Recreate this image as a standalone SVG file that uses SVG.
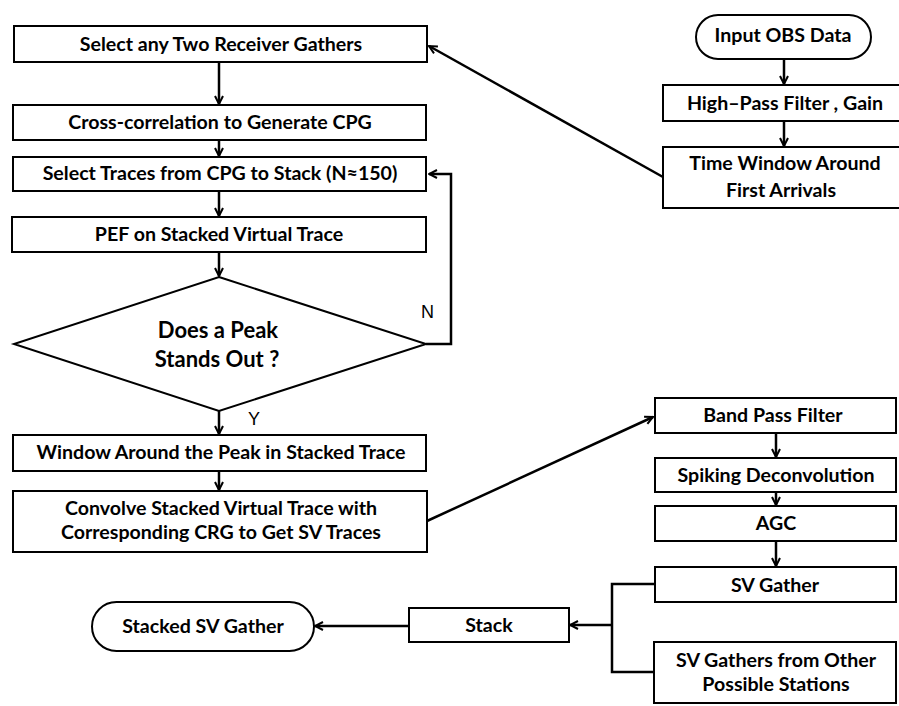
<svg xmlns="http://www.w3.org/2000/svg" width="899" height="706" viewBox="0 0 899 706">
<style>
.box{fill:#fff;stroke:#000;stroke-width:2}
.t{font-family:Lato,"Liberation Sans",sans-serif;font-weight:bold;font-size:19.6px;fill:#000;text-anchor:middle}
.d{font-size:22px}
.lbl{font-family:"Liberation Sans",Arial,sans-serif;font-size:18px;fill:#000}
.c{fill:none;stroke:#000;stroke-width:2.5}
</style>
<defs>
<marker id="a" viewBox="0 0 10 10" refX="9" refY="5" markerWidth="10" markerHeight="10" markerUnits="userSpaceOnUse" orient="auto">
<path d="M1,1 L9,5 L1,9" fill="none" stroke="#000" stroke-width="2"/>
</marker>
</defs>
<rect width="899" height="706" fill="#fff"/>
<g id="connectors">
<line class="c" x1="219" y1="62" x2="219" y2="104" marker-end="url(#a)"/>
<line class="c" x1="219" y1="140" x2="219" y2="156" marker-end="url(#a)"/>
<line class="c" x1="219" y1="191" x2="219" y2="216" marker-end="url(#a)"/>
<line class="c" x1="219" y1="252" x2="219" y2="276" marker-end="url(#a)"/>
<line class="c" x1="219" y1="411" x2="219" y2="434" marker-end="url(#a)"/>
<line class="c" x1="219" y1="471" x2="219" y2="490" marker-end="url(#a)"/>
<polyline class="c" points="426,344 451,344 451,174 429,174" marker-end="url(#a)"/>
<line class="c" x1="663" y1="177" x2="429" y2="46" marker-end="url(#a)"/>
<line class="c" x1="784" y1="59" x2="784" y2="84" marker-end="url(#a)"/>
<line class="c" x1="784" y1="121" x2="784" y2="146" marker-end="url(#a)"/>
<line class="c" x1="427" y1="521" x2="653" y2="417" marker-end="url(#a)"/>
<line class="c" x1="776" y1="433" x2="776" y2="457" marker-end="url(#a)"/>
<line class="c" x1="776" y1="492" x2="776" y2="505" marker-end="url(#a)"/>
<line class="c" x1="776" y1="541" x2="776" y2="566" marker-end="url(#a)"/>
<polyline class="c" points="655,584 612,584 612,672 655,672"/>
<line class="c" x1="612" y1="625" x2="570" y2="625" marker-end="url(#a)"/>
<line class="c" x1="409" y1="626" x2="315" y2="626" marker-end="url(#a)"/>
<text class="lbl" x="421" y="318">N</text>
<text class="lbl" x="248" y="425">Y</text>
</g>
<g id="n1"><rect class="box" x="14" y="26" width="413" height="36"/><text class="t" x="221" y="51">Select any Two Receiver Gathers</text></g>
<g id="n2"><rect class="box" x="13" y="105" width="413" height="35"/><text class="t" x="220" y="129">Cross-correlation to Generate CPG</text></g>
<g id="n3"><rect class="box" x="13" y="157" width="413" height="34"/><text class="t" x="220" y="180">Select Traces from CPG to Stack (N≈150)</text></g>
<g id="n4"><rect class="box" x="12" y="217" width="414" height="35"/><text class="t" x="219" y="241">PEF on Stacked Virtual Trace</text></g>
<g id="n5"><polygon class="box" points="219,277 426,344 219,411 14,344"/><text class="t d" x="218" y="338">Does a Peak</text><text class="t d" x="217" y="367">Stands Out ?</text></g>
<g id="n6"><rect class="box" x="13" y="435" width="413" height="36"/><text class="t" x="221" y="459">Window Around the Peak in Stacked Trace</text></g>
<g id="n7"><rect class="box" x="13" y="491" width="414" height="61"/><text class="t" x="221" y="515">Convolve Stacked Virtual Trace with</text><text class="t" x="221" y="539">Corresponding CRG to Get SV Traces</text></g>
<g id="n8"><rect class="box" x="696" y="15" width="175" height="44" rx="22" ry="22"/><text class="t" x="783" y="42">Input OBS Data</text></g>
<g id="n9"><rect class="box" x="663" y="85" width="245" height="36"/><text class="t" x="785" y="110">High–Pass Filter , Gain</text></g>
<g id="n10"><rect class="box" x="663" y="147" width="245" height="61"/><text class="t" x="785" y="170">Time Window Around</text><text class="t" x="781" y="197">First Arrivals</text></g>
<g id="n11"><rect class="box" x="655" y="398" width="241" height="35"/><text class="t" x="773" y="422">Band Pass Filter</text></g>
<g id="n12"><rect class="box" x="655" y="458" width="241" height="34"/><text class="t" x="776" y="482">Spiking Deconvolution</text></g>
<g id="n13"><rect class="box" x="655" y="506" width="241" height="35"/><text class="t" x="776" y="530">AGC</text></g>
<g id="n14"><rect class="box" x="655" y="567" width="241" height="35"/><text class="t" x="775" y="592">SV Gather</text></g>
<g id="n15"><rect class="box" x="654" y="642" width="242" height="61"/><text class="t" x="776" y="667">SV Gathers from Other</text><text class="t" x="776" y="691">Possible Stations</text></g>
<g id="n16"><rect class="box" x="409" y="608" width="160" height="34"/><text class="t" x="489" y="632">Stack</text></g>
<g id="n17"><rect class="box" x="92" y="602" width="222" height="49" rx="24.5" ry="24.5"/><text class="t" x="203" y="633">Stacked SV Gather</text></g>
</svg>
